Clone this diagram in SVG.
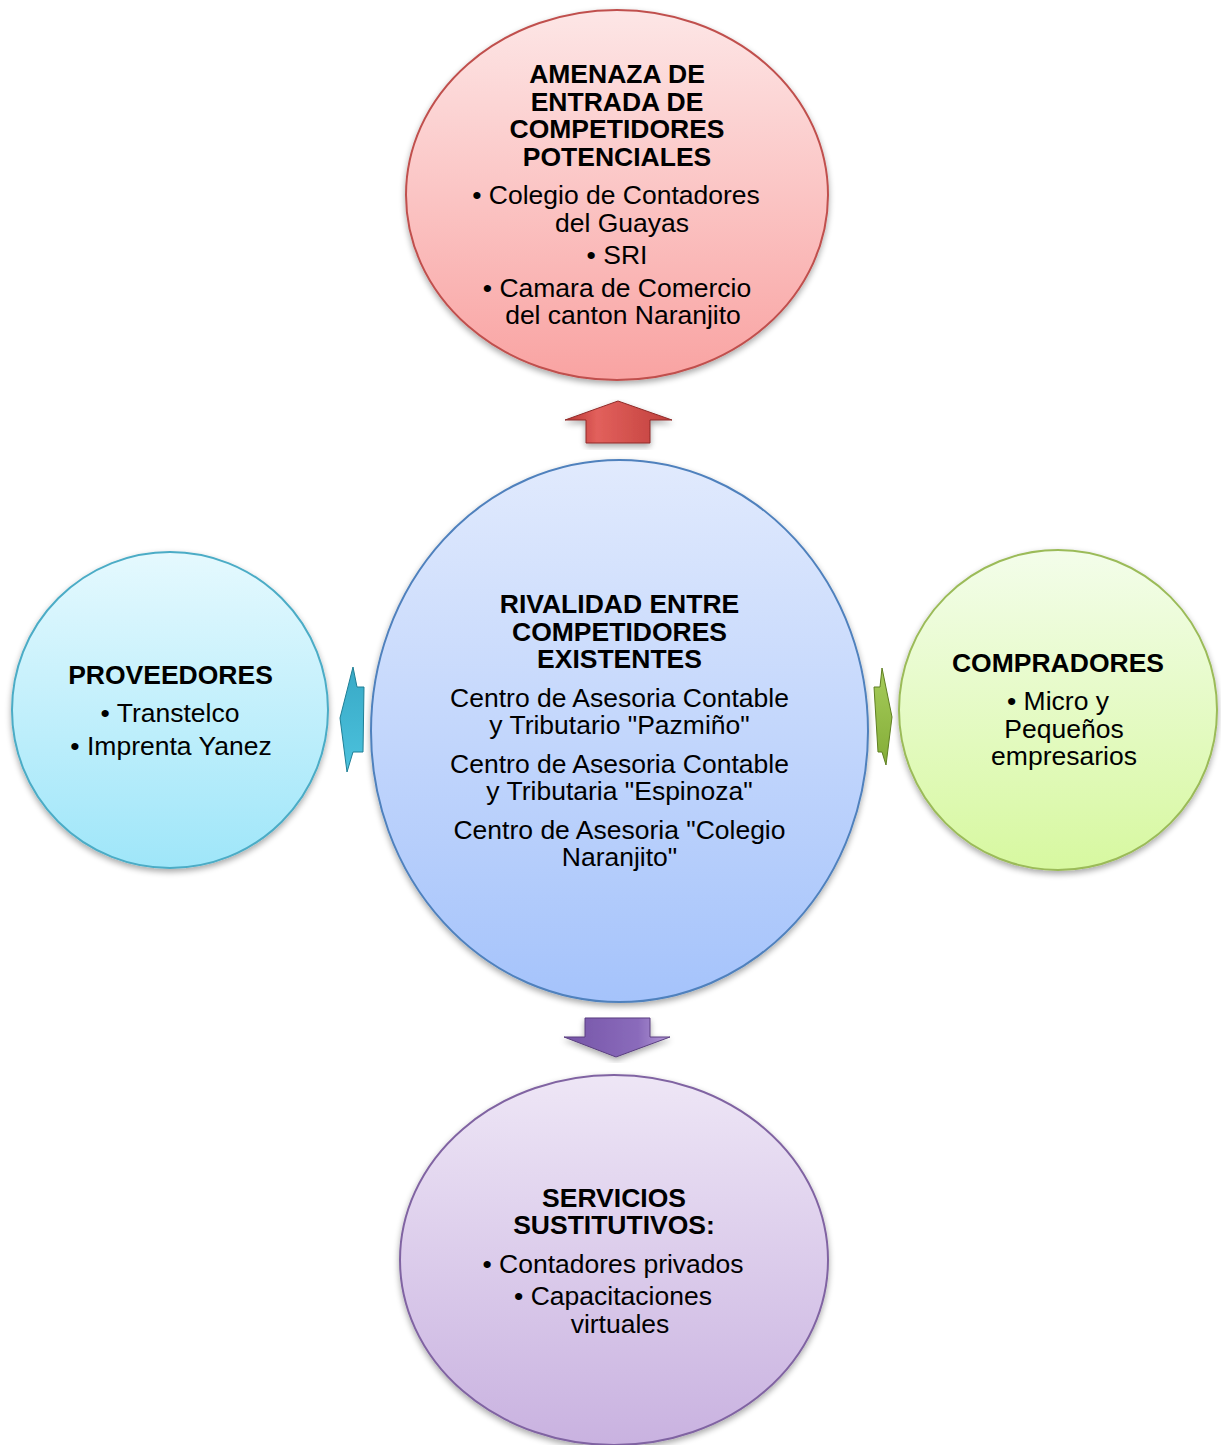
<svg xmlns="http://www.w3.org/2000/svg" width="1221" height="1445" viewBox="0 0 1221 1445">
<defs>
<style>
text{font-family:"Liberation Sans",Arial,sans-serif;fill:#000;text-anchor:middle;font-size:26.5px}
.t{font-weight:bold;font-size:26.5px}
.node{stroke-width:2}
</style>
<filter id="sh" x="-10%" y="-10%" width="120%" height="125%">
<feGaussianBlur in="SourceAlpha" stdDeviation="3"/>
<feOffset dx="0" dy="3" result="b"/>
<feComponentTransfer><feFuncA type="linear" slope="0.35"/></feComponentTransfer>
<feMerge><feMergeNode/><feMergeNode in="SourceGraphic"/></feMerge>
</filter>
<linearGradient id="gr" x1="0" y1="0" x2="0" y2="1"><stop offset="0" stop-color="#fde6e6"/><stop offset="1" stop-color="#f9a3a2"/></linearGradient>
<linearGradient id="gb" x1="0" y1="0" x2="0" y2="1"><stop offset="0" stop-color="#e1eafd"/><stop offset="1" stop-color="#a5c3fb"/></linearGradient>
<linearGradient id="gc" x1="0" y1="0" x2="0" y2="1"><stop offset="0" stop-color="#e5f9fe"/><stop offset="1" stop-color="#9fe6f9"/></linearGradient>
<linearGradient id="gg" x1="0" y1="0" x2="0" y2="1"><stop offset="0" stop-color="#f3fdea"/><stop offset="1" stop-color="#d7f8a0"/></linearGradient>
<linearGradient id="gp" x1="0" y1="0" x2="0" y2="1"><stop offset="0" stop-color="#eee6f6"/><stop offset="1" stop-color="#c9b2e0"/></linearGradient>
<linearGradient id="ar" x1="0" y1="0" x2="1" y2="0"><stop offset="0" stop-color="#b83532"/><stop offset="0.3" stop-color="#e2605c"/><stop offset="1" stop-color="#c0403c"/></linearGradient>
<linearGradient id="ap" x1="0" y1="0" x2="1" y2="0"><stop offset="0" stop-color="#7655a8"/><stop offset="0.7" stop-color="#8a6bbb"/><stop offset="1" stop-color="#b59ad8"/></linearGradient>
<linearGradient id="ac" x1="0" y1="0" x2="0" y2="1"><stop offset="0" stop-color="#38a9c6"/><stop offset="1" stop-color="#4cc2dd"/></linearGradient>
<linearGradient id="ag" x1="0" y1="0" x2="0" y2="1"><stop offset="0" stop-color="#a6cc5a"/><stop offset="1" stop-color="#84ad38"/></linearGradient>
</defs>
<rect width="1221" height="1445" fill="#fff"/>

<g id="connectors">
<polygon points="618,401 672,420 650,420 650,443 586,443 586,420 565,420" fill="url(#ar)" stroke="#8f2a28" stroke-width="1" filter="url(#sh)"/>
<polygon points="585,1018 650,1018 650,1037 670,1037 616,1057 564,1037 585,1037" fill="url(#ap)" stroke="#5a3f80" stroke-width="1" filter="url(#sh)"/>
<polygon points="364,687 357,687 353,667 340,718 347,772 353,752 363,752" fill="url(#ac)" stroke="#1f7f96" stroke-width="1"/>
<polygon points="874,687 880,687 882,668 892,717 886,765 882,752 878,752" fill="url(#ag)" stroke="#5f7f22" stroke-width="1"/>
</g>

<g id="node-top">
<ellipse class="node" cx="617" cy="195" rx="211" ry="185" fill="url(#gr)" stroke="#c0504d" filter="url(#sh)"/>
<text class="t" x="617" y="83">AMENAZA DE</text>
<text class="t" x="617" y="111">ENTRADA DE</text>
<text class="t" x="617" y="138">COMPETIDORES</text>
<text class="t" x="617" y="166">POTENCIALES</text>
<text x="616" y="204">•  Colegio de Contadores</text>
<text x="622" y="232">del Guayas</text>
<text x="617" y="264">• SRI</text>
<text x="617" y="297">• Camara de Comercio</text>
<text x="623" y="324">del canton Naranjito</text>
</g>

<g id="node-center">
<ellipse class="node" cx="619.5" cy="731" rx="248.5" ry="271" fill="url(#gb)" stroke="#4f81bd" filter="url(#sh)"/>
<text class="t" x="619.5" y="613">RIVALIDAD ENTRE</text>
<text class="t" x="619.5" y="641">COMPETIDORES</text>
<text class="t" x="619.5" y="668">EXISTENTES</text>
<text x="619.5" y="707">Centro de Asesoria Contable</text>
<text x="619.5" y="734">y Tributario "Pazmiño"</text>
<text x="619.5" y="773">Centro de Asesoria Contable</text>
<text x="619.5" y="800">y Tributaria "Espinoza"</text>
<text x="619.5" y="839">Centro de Asesoria "Colegio</text>
<text x="619.5" y="866">Naranjito"</text>
</g>

<g id="node-left">
<ellipse class="node" cx="170" cy="710" rx="158" ry="158" fill="url(#gc)" stroke="#4bacc6" filter="url(#sh)"/>
<text class="t" x="170.5" y="684">PROVEEDORES</text>
<text x="170" y="722">• Transtelco</text>
<text x="171" y="755">• Imprenta Yanez</text>
</g>

<g id="node-right">
<ellipse class="node" cx="1058" cy="710" rx="159" ry="160" fill="url(#gg)" stroke="#9bbb59" filter="url(#sh)"/>
<text class="t" x="1058" y="672">COMPRADORES</text>
<text x="1058" y="710">• Micro y</text>
<text x="1064" y="738">Pequeños</text>
<text x="1064" y="765">empresarios</text>
</g>

<g id="node-bottom">
<ellipse class="node" cx="614" cy="1260" rx="214" ry="185" fill="url(#gp)" stroke="#8064a2" filter="url(#sh)"/>
<text class="t" x="614" y="1207">SERVICIOS</text>
<text class="t" x="614" y="1234">SUSTITUTIVOS:</text>
<text x="613" y="1273">• Contadores privados</text>
<text x="613" y="1305">• Capacitaciones</text>
<text x="620" y="1333">virtuales</text>
</g>
</svg>
